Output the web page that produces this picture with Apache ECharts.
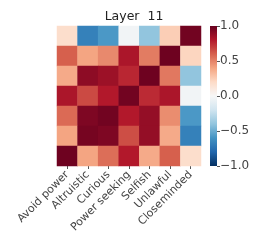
<!DOCTYPE html>
<html><head><meta charset="utf-8">
<script src="https://cdn.jsdelivr.net/npm/echarts@6/dist/echarts.min.js"></script>
<style>html,body{margin:0;padding:0;background:#fff}#c{width:259px;height:249px}</style>
</head><body><div id="c"></div>
<script>
const titleText = 'Layer  11';
const xLabels = ['Avoid power','Altruistic','Curious','Power seeking','Selfish','Unlawful','Closeminded'];
const yLabels = ['0','1','2','3','4','5','6'];
const row0 = [0.18, -0.68, -0.58, -0.03, -0.40, 0.25, 0.97];
const row1 = [0.60, 0.40, 0.48, 0.82, 0.52, 0.98, 0.22];
const row2 = [0.38, 0.90, 0.86, 0.76, 0.98, 0.53, -0.40];
const row3 = [0.82, 0.66, 0.80, 0.97, 0.75, 0.82, -0.03];
const row4 = [0.57, 0.94, 0.97, 0.80, 0.88, 0.47, -0.58];
const row5 = [0.40, 0.96, 0.94, 0.65, 0.88, 0.38, -0.68];
const row6 = [0.98, 0.40, 0.56, 0.80, 0.38, 0.60, 0.18];
const rows = [row0,row1,row2,row3,row4,row5,row6];
const cbTicks = [-1, -0.5, 0, 0.5, 1];
const palette = ['#053061','#2166ac','#4393c3','#92c5de','#d1e5f0','#f7f7f7','#fddbc7','#f4a582','#d6604d','#b2182b','#67001f'];

const data = [];
rows.forEach((r, i) => r.forEach((v, j) => data.push([j, i, v])));

const chart = echarts.init(document.getElementById('c'), null, {renderer: 'canvas'});
const font = 'DejaVu Sans';
chart.setOption({
  animation: false,
  title: {text: titleText, left: 129, top: 5, textAlign: 'center',
    textStyle: {fontFamily: font, fontSize: 12.5, fontWeight: 'normal', color: '#222'}},
  grid: [
    {left: 57, top: 26, width: 144, height: 140},
    {left: 210, top: 26, width: 7, height: 140}
  ],
  xAxis: [
    {type: 'category', data: xLabels, gridIndex: 0,
      axisLine: {show: false},
      axisTick: {show: true, alignWithLabel: true, length: 3, lineStyle: {color: '#555'}},
      axisLabel: {rotate: 45, interval: 0, margin: 7, fontFamily: font, fontSize: 11, color: '#444'},
      splitLine: {show: false}},
    {type: 'category', data: ['c'], gridIndex: 1, show: false}
  ],
  yAxis: [
    {type: 'category', data: yLabels, gridIndex: 0, inverse: true, show: false},
    {type: 'value', gridIndex: 1, min: -1, max: 1, interval: 0.5, position: 'right',
      axisLine: {show: false},
      axisTick: {show: true, length: 3, lineStyle: {color: '#555'}},
      splitLine: {show: false},
      axisLabel: {margin: 3, fontFamily: font, fontSize: 12, color: '#444',
        formatter: v => (v < 0 ? '\u2212' : '') + Math.abs(v).toFixed(1)}}
  ],
  visualMap: {show: false, type: 'continuous', min: -1, max: 1, seriesIndex: 0,
    inRange: {color: palette}},
  series: [
    {type: 'heatmap', xAxisIndex: 0, yAxisIndex: 0, data: data,
      itemStyle: {borderWidth: 0}, emphasis: {disabled: true}},
    {type: 'custom', xAxisIndex: 1, yAxisIndex: 1, data: [[0, 1]],
      renderItem: function (params, api) {
        const top = api.coord([0, cbTicks[cbTicks.length - 1]]);
        const bot = api.coord([0, cbTicks[0]]);
        const w = api.size([1, 0])[0];
        const stops = palette.slice().reverse().map((c, k) => ({offset: k / (palette.length - 1), color: c}));
        return {type: 'rect', shape: {x: top[0] - w / 2, y: top[1], width: w, height: bot[1] - top[1]},
          style: {fill: new echarts.graphic.LinearGradient(0, 0, 0, 1, stops)}};
      }}
  ]
});
</script></body></html>
